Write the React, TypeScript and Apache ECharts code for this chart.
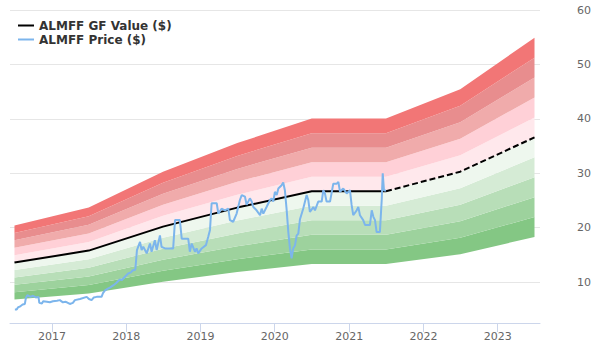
import React, { useEffect, useRef } from "react";
import * as echarts from "echarts";

const gfDates = ["2016-07-01", "2017-07-01", "2018-07-01", "2019-07-01", "2020-07-01", "2021-07-01", "2022-07-01", "2023-07-01"];
const gfValues = [13.6, 15.8, 20.2, 23.7, 26.7, 26.7, 30.3, 36.6];
const solidCount = 6; // points up to 2021-07 drawn solid, rest dashed

const bandMultipliers = [0.5, 0.6, 0.7, 0.8, 0.9, 1.0, 1.1, 1.2, 1.3, 1.4, 1.5];
const bandColors = ["#84c784", "#9dd29d", "#b8deb8", "#d5ebd5", "#eef7ee", "#ffe8ec", "#ffd0d7", "#f0abab", "#e88d8e", "#f27676"];

const priceDates = [
  "2016-07-03", "2016-07-12", "2016-07-19", "2016-07-27", "2016-08-10", "2016-08-21", "2016-08-26", "2016-09-02",
  "2016-09-18", "2016-09-30", "2016-10-14", "2016-10-27", "2016-10-31", "2016-11-13", "2016-11-19", "2016-12-07",
  "2016-12-22", "2017-01-06", "2017-01-26", "2017-02-09", "2017-02-24", "2017-03-11", "2017-03-30", "2017-04-14",
  "2017-04-24", "2017-05-19", "2017-06-21", "2017-07-02", "2017-07-15", "2017-07-26", "2017-08-09", "2017-09-02",
  "2017-09-09", "2017-09-19", "2017-10-03", "2017-10-13", "2017-10-29", "2017-11-12", "2017-12-01", "2017-12-11",
  "2017-12-26", "2018-01-11", "2018-01-24", "2018-02-03", "2018-02-15", "2018-02-23", "2018-03-10", "2018-03-18",
  "2018-03-26", "2018-04-12", "2018-04-28", "2018-05-06", "2018-05-22", "2018-05-31", "2018-06-16", "2018-06-24",
  "2018-07-11", "2018-08-20", "2018-08-29", "2018-09-22", "2018-10-01", "2018-11-02", "2018-11-10", "2018-11-19",
  "2018-12-05", "2018-12-13", "2018-12-21", "2019-01-07", "2019-01-28", "2019-02-08", "2019-02-17", "2019-02-25",
  "2019-03-22", "2019-03-30", "2019-04-15", "2019-05-01", "2019-05-18", "2019-05-26", "2019-06-11", "2019-06-28",
  "2019-07-14", "2019-07-23", "2019-08-08", "2019-08-16", "2019-09-01", "2019-09-10", "2019-09-18", "2019-10-04",
  "2019-10-21", "2019-10-29", "2019-11-06", "2019-11-22", "2019-12-09", "2019-12-17", "2019-12-25", "2020-01-02",
  "2020-01-11", "2020-01-19", "2020-02-04", "2020-02-12", "2020-02-20", "2020-02-29", "2020-03-08", "2020-03-16",
  "2020-03-24", "2020-04-01", "2020-04-10", "2020-04-18", "2020-04-26", "2020-05-04", "2020-05-20", "2020-06-06",
  "2020-06-14", "2020-06-22", "2020-07-09", "2020-07-17", "2020-08-02", "2020-08-19", "2020-08-27", "2020-09-04",
  "2020-09-12", "2020-09-29", "2020-10-15", "2020-11-01", "2020-11-09", "2020-11-17", "2020-12-03", "2020-12-20",
  "2021-01-05", "2021-01-13", "2021-01-21", "2021-02-07", "2021-02-15", "2021-02-23", "2021-03-11", "2021-03-20",
  "2021-04-13", "2021-04-22", "2021-04-30", "2021-05-08", "2021-05-16", "2021-06-01", "2021-06-10", "2021-06-15",
  "2021-06-21", "2021-07-01",
];
const priceValues = [
  5.0, 5.0, 5.4, 5.5, 5.9, 6.0, 7.1, 7.6,
  7.3, 7.5, 7.2, 7.3, 6.2, 6.1, 6.5, 6.4,
  6.3, 6.5, 6.6, 6.7, 6.3, 6.4, 6.0, 6.2,
  6.7, 6.9, 7.3, 6.9, 6.7, 7.2, 7.3, 7.3,
  8.0, 8.5, 8.8, 9.0, 9.4, 9.8, 10.5, 10.4,
  11.0, 11.6, 11.8, 12.2, 12.3, 15.9, 17.4, 15.9,
  16.5, 15.3, 17.1, 15.6, 17.7, 15.9, 18.6, 16.5,
  16.2, 16.2, 21.4, 21.4, 18.0, 18.0, 15.6, 17.1,
  15.6, 16.2, 15.3, 16.2, 16.8, 18.3, 19.6, 24.5,
  24.5, 22.6, 23.5, 23.2, 23.5, 21.4, 21.1, 22.6,
  25.1, 26.0, 25.7, 24.2, 25.4, 24.8, 23.8, 23.2,
  22.3, 23.5, 22.6, 23.8, 25.1, 25.4, 24.8, 26.6,
  26.0, 27.2, 27.8, 28.3, 26.9, 23.2, 19.2, 16.2,
  14.4, 16.2, 16.8, 18.6, 18.9, 21.5, 23.5, 26.0,
  25.1, 22.9, 23.8, 23.2, 24.8, 24.8, 26.9, 26.3,
  24.8, 24.8, 28.1, 28.1, 28.4, 26.6, 27.2, 26.3,
  26.9, 24.2, 22.3, 23.2, 23.8, 22.3, 21.4, 20.5,
  20.5, 23.2, 22.0, 21.4, 19.2, 19.2, 25.1, 30.0,
  26.9, 26.8,
];

const yTicks = [10, 20, 30, 40, 50, 60];

const FONT = "DejaVu Sans";
const LINE_ICON = "path://M0,0H16V2H0Z";

export default function App() {
  const ref = useRef<HTMLDivElement>(null);
  useEffect(() => {
    if (!ref.current) return;
    const chart = echarts.init(ref.current, null, { renderer: "svg" });
    const ts = (d: string) => new Date(d + "T00:00:00Z").getTime();
    const DAY = 86400000;

    const bandSeries: any[] = [];
    bandSeries.push({
      name: "base",
      type: "line",
      stack: "gf",
      symbol: "none",
      silent: true,
      lineStyle: { width: 0, opacity: 0 },
      data: gfDates.map((d, i) => [ts(d), gfValues[i] * bandMultipliers[0]]),
      z: 1,
    });
    for (let b = 0; b < bandColors.length; b++) {
      bandSeries.push({
        name: "band" + b,
        type: "line",
        stack: "gf",
        symbol: "none",
        silent: true,
        lineStyle: { width: 0, opacity: 0 },
        areaStyle: { color: bandColors[b], opacity: 1 },
        data: gfDates.map((d, i) => [ts(d), gfValues[i] * (bandMultipliers[b + 1] - bandMultipliers[b])]),
        z: 1,
      });
    }

    const option: any = {
      animation: false,
      backgroundColor: "#ffffff",
      textStyle: { fontFamily: FONT },
      grid: { left: 10, right: 60, top: 10, bottom: 37, containLabel: false },
      legend: {
        left: 13,
        top: 14,
        padding: 5,
        orient: "vertical",
        itemWidth: 16,
        itemHeight: 14,
        itemGap: 1,
        textStyle: { fontFamily: FONT, fontSize: 12, lineHeight: 13, fontWeight: "bold", color: "#333333" },
        data: [
          { name: "ALMFF GF Value ($)", icon: LINE_ICON },
          { name: "ALMFF Price ($)", icon: LINE_ICON },
        ],
      },
      xAxis: {
        type: "time",
        min: ts("2016-06-09"),
        max: ts("2023-07-28"),
        minInterval: 365 * DAY,
        axisLine: { show: true, lineStyle: { color: "#ccd6eb", width: 1 } },
        axisTick: { show: true, length: 9, lineStyle: { color: "#ccd6eb" } },
        axisLabel: {
          color: "#666666",
          fontSize: 11,
          fontFamily: FONT,
          margin: 8,
          showMinLabel: false,
          showMaxLabel: false,
          formatter: (v: number) => String(new Date(v).getUTCFullYear()),
        },
        splitLine: { show: false },
      },
      yAxis: {
        type: "value",
        position: "right",
        min: 2.5,
        max: 60,
        axisLine: { show: false },
        axisTick: { show: false, customValues: yTicks },
        axisLabel: { color: "#666666", fontSize: 11, fontFamily: FONT, margin: 37, customValues: yTicks },
        splitLine: { show: true, lineStyle: { color: "#e6e6e6", width: 1 } },
      },
      series: [
        ...bandSeries,
        {
          name: "ALMFF GF Value ($)",
          type: "line",
          symbol: "none",
          color: "#000000",
          lineStyle: { color: "#000000", width: 2 },
          data: gfDates.slice(0, solidCount).map((d, i) => [ts(d), gfValues[i]]),
          z: 3,
        },
        {
          name: "GF Value estimate",
          type: "line",
          symbol: "none",
          color: "#000000",
          lineStyle: { color: "#000000", width: 2, type: [6, 3] },
          data: gfDates.slice(solidCount - 1).map((d, i) => [ts(d), gfValues[i + solidCount - 1]]),
          z: 3,
        },
        {
          name: "ALMFF Price ($)",
          type: "line",
          symbol: "none",
          color: "#7cb5ec",
          lineStyle: { color: "#7cb5ec", width: 2 },
          data: priceDates.map((d, i) => [ts(d), priceValues[i]]),
          z: 4,
        },
      ],
    };
    chart.setOption(option);
    return () => chart.dispose();
  }, []);
  return <div ref={ref} style={{ width: 600, height: 360, position: "absolute", left: 0, top: 0 }} />;
}
